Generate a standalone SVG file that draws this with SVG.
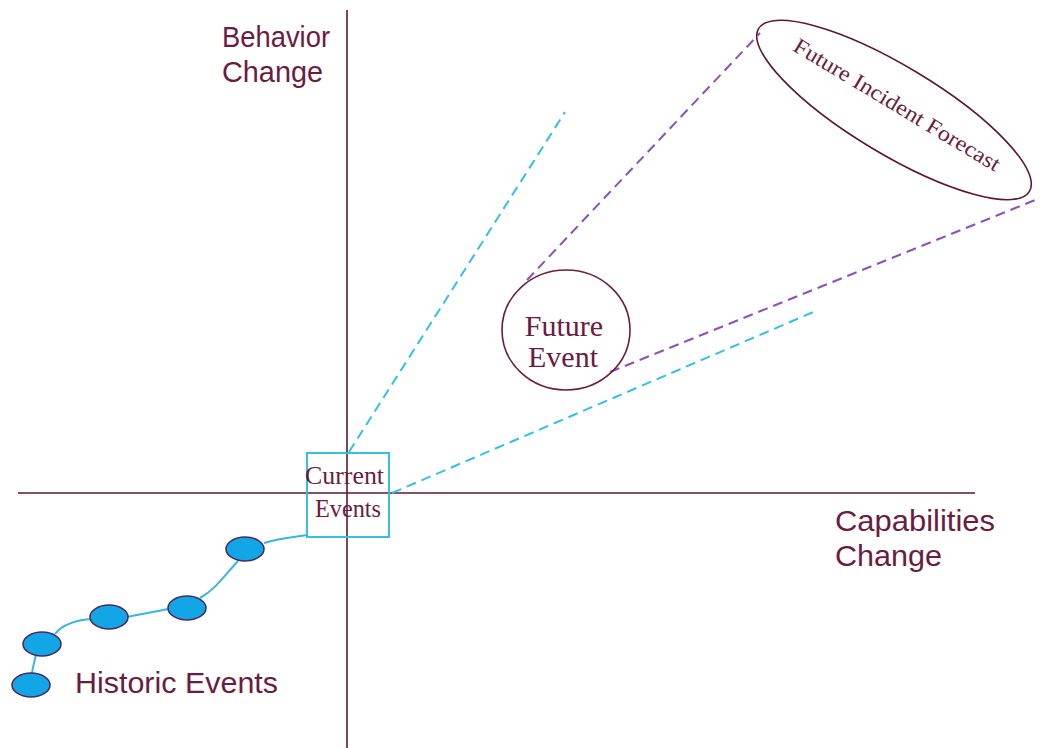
<svg xmlns="http://www.w3.org/2000/svg" width="1044" height="748" viewBox="0 0 1044 748">
<style>
.axis{stroke:#5a1838;stroke-width:1.6;fill:none}
.cy{stroke:#35bfe2;stroke-width:2;stroke-dasharray:10 6;fill:none}
.pu{stroke:#8c52b4;stroke-width:2;stroke-dasharray:10 6;fill:none}
.sans{font-family:"Liberation Sans",Arial,sans-serif;fill:#6a1c42}
.serif{font-family:"Liberation Serif","Times New Roman",serif;fill:#6a1c42}
.ev{fill:#12a6e6;stroke:#4a2a5a;stroke-width:1.5}
.link{stroke:#3ab6dc;stroke-width:2;fill:none}
</style>
<rect width="1044" height="748" fill="#fff"/>
<g id="axes">
<line class="axis" x1="347" y1="10" x2="347" y2="748"/>
<line class="axis" x1="18" y1="493" x2="975" y2="493"/>
</g>
<g id="connectors">
<line class="cy" x1="349" y1="452" x2="565" y2="112"/>
<line class="cy" x1="392" y1="493" x2="818" y2="310"/>
<line class="pu" x1="527" y1="280" x2="760" y2="33"/>
<line class="pu" x1="610" y1="372" x2="1040" y2="198"/>
<path class="link" d="M307 535 C295 537 280 538 264 543"/>
<path class="link" d="M238 561 C225 575 215 590 200 598"/>
<path class="link" d="M168 609 C155 612 140 614 127 617"/>
<path class="link" d="M92 619 C75 620 62 625 55 634"/>
<path class="link" d="M36 655 C34 662 33 668 32 673"/>
</g>
<g id="behavior-label">
<text class="sans" x="222" y="47" font-size="29" textLength="108" lengthAdjust="spacingAndGlyphs">Behavior</text>
<text class="sans" x="222" y="82" font-size="29" textLength="101" lengthAdjust="spacingAndGlyphs">Change</text>
</g>
<g id="capabilities-label">
<text class="sans" x="835" y="531" font-size="30" textLength="160" lengthAdjust="spacingAndGlyphs">Capabilities</text>
<text class="sans" x="835" y="566" font-size="30" textLength="107" lengthAdjust="spacingAndGlyphs">Change</text>
</g>
<g id="current-events">
<rect x="307" y="453" width="82" height="84" fill="none" stroke="#35bfe2" stroke-width="2"/>
<text class="serif" x="305" y="484" font-size="25" textLength="79" lengthAdjust="spacingAndGlyphs">Current</text>
<text class="serif" x="315" y="517" font-size="25" textLength="66" lengthAdjust="spacingAndGlyphs">Events</text>
</g>
<g id="future-event">
<ellipse cx="566" cy="330" rx="64" ry="60" fill="none" stroke="#6a1c42" stroke-width="1.6"/>
<text class="serif" x="564" y="336" font-size="30" text-anchor="middle">Future</text>
<text class="serif" x="563" y="367" font-size="30" text-anchor="middle">Event</text>
</g>
<g id="forecast">
<ellipse cx="894" cy="110" rx="158" ry="44" transform="rotate(31 894 110)" fill="none" stroke="#5a1838" stroke-width="1.6"/>
<text class="serif" x="897" y="112" font-size="22" text-anchor="middle" textLength="237" lengthAdjust="spacingAndGlyphs" transform="rotate(31 897 105)">Future Incident Forecast</text>
</g>
<g id="historic-events">
<ellipse class="ev" cx="245" cy="549" rx="19" ry="12"/>
<ellipse class="ev" cx="187" cy="608" rx="19" ry="12"/>
<ellipse class="ev" cx="109" cy="617" rx="19" ry="12"/>
<ellipse class="ev" cx="42" cy="644" rx="19" ry="12"/>
<ellipse class="ev" cx="31" cy="685" rx="19" ry="12"/>
<text class="sans" x="75" y="693" font-size="30" textLength="203" lengthAdjust="spacingAndGlyphs">Historic Events</text>
</g>
</svg>
